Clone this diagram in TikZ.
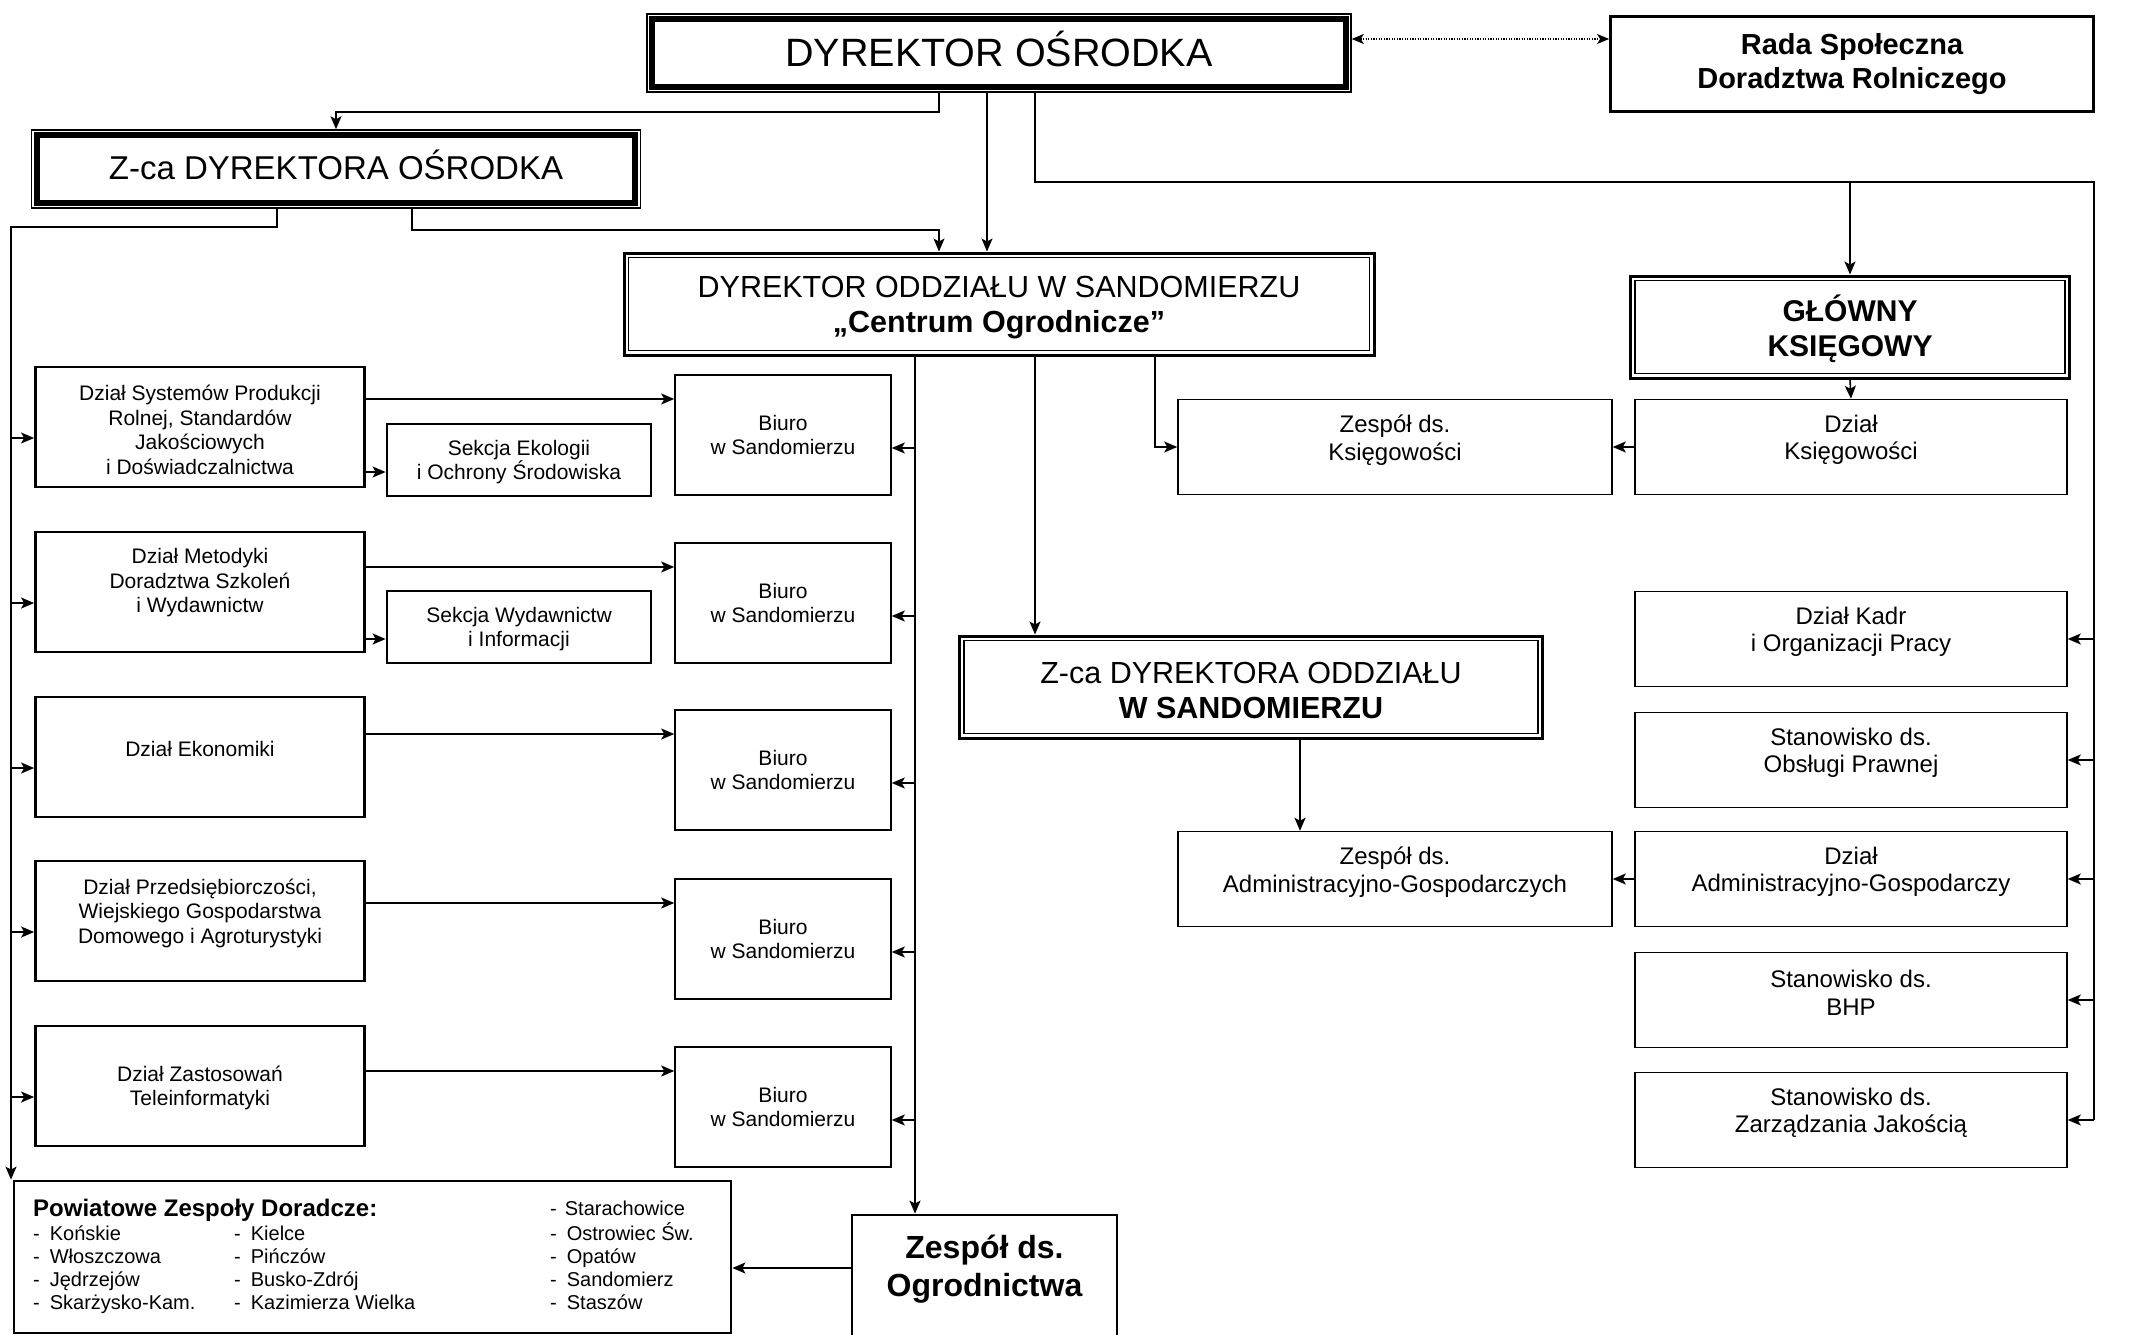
\documentclass[tikz,border=0pt]{standalone}
\usepackage{fontspec}
\setmainfont{Liberation Sans}
\usetikzlibrary{arrows.meta,calc}
\newcommand\fsz[2]{\fontsize{#1pt}{#2pt}\selectfont}
\newcommand\innerframe[3]{\draw[#1] ($(#2.north west)+(#3,#3)$) rectangle ($(#2.south east)+(-#3,-#3)$);}
\begin{document}
\begin{tikzpicture}[x=1pt,y=-1pt,
  conn/.style={line width=1.6pt,-{Stealth[length=13pt,width=11pt,inset=3pt]}},
  bare/.style={line width=1.6pt},
  dotconn/.style={line width=1.3pt,dash pattern=on 1.3pt off 1.3pt,{Stealth[length=12pt,width=10pt,inset=3pt]}-{Stealth[length=12pt,width=10pt,inset=3pt]}},
  orgbox/.style={draw,inner sep=0pt,align=center},
  thinbox/.style={orgbox,line width=1.5pt},
  thickbox/.style={orgbox,line width=2.8pt},
  outerthin/.style={orgbox,line width=1.5pt},
  outerthick/.style={orgbox,line width=3pt},
  innerthick/.style={line width=6pt},
  innerthin/.style={line width=1.5pt},
  txt/.style={inner sep=0pt,align=center},
  dzial/.style={thickbox,minimum width=329pt,minimum height=120pt,font=\fsz{21}{24.5}},
  sekcja/.style={thickbox,minimum width=264pt,minimum height=72pt,font=\fsz{21}{25}},
  biuro/.style={thinbox,minimum width=216pt,minimum height=120pt,font=\fsz{21}{24.5}},
  rbox/.style={thinbox,minimum width=432pt,minimum height=95pt},
  t21/.style={txt,font=\fsz{21}{24.5}},
  t24/.style={txt,font=\fsz{24}{27.5}},
  item/.style={inner sep=0pt,anchor=base west,font=\fsz{20}{23}}
]
\clip (0,0) rectangle (2131,1335);
\fill[white] (0,0) rectangle (2131,1335);

% top level
\node[outerthin,minimum width=704pt,minimum height=78pt] (dyr) at (999,53) {};
\innerframe{innerthick}{dyr}{6}
\node[txt,font=\fsz{39.5}{45}] (dyrt) at (999,49) {DYREKTOR OŚRODKA};
\node[thickbox,minimum width=483pt,minimum height=95pt,font=\bfseries\fsz{29}{34}] (rada) at (1852,64) {Rada Społeczna\\Doradztwa Rolniczego};
\node[outerthin,minimum width=609pt,minimum height=78pt] (zca) at (336,169) {};
\innerframe{innerthick}{zca}{6}
\node[txt,font=\fsz{33}{38}] (zcat) at (336,165) {Z-ca DYREKTORA OŚRODKA};
\node[outerthick,minimum width=750pt,minimum height=102pt] (dyro) at (999,304) {};
\innerframe{innerthin}{dyro}{6}
\node[txt,font=\fsz{30.5}{35}] (dyrot) at (999,308) {DYREKTOR ODDZIAŁU W SANDOMIERZU\\\textbf{„Centrum Ogrodnicze”}};
\node[outerthick,minimum width=439pt,minimum height=102pt] (glow) at (1850,327) {};
\innerframe{innerthin}{glow}{6}
\node[txt,font=\bfseries\fsz{30}{35}] (glowt) at (1850,329) {GŁÓWNY\\KSIĘGOWY};
\node[outerthick,minimum width=583pt,minimum height=102pt] (zcao) at (1251,687) {};
\innerframe{innerthin}{zcao}{6}
\node[txt,font=\fsz{30.5}{35}] (zcaot) at (1251,690) {Z-ca DYREKTORA ODDZIAŁU\\\textbf{W SANDOMIERZU}};

% left departments
\node[dzial] (d1) at (200,427) {};
\node[t21] (d1t) at (200,430) {Dział Systemów Produkcji\\Rolnej, Standardów\\Jakościowych\\i Doświadczalnictwa};
\node[dzial] (d2) at (200,592) {};
\node[t21] (d2t) at (200,583) {Dział Metodyki\\Doradztwa Szkoleń\\i Wydawnictw};
\node[dzial] (d3) at (200,757) {};
\node[t21] (d3t) at (200,749) {Dział Ekonomiki};
\node[dzial] (d4) at (200,921) {};
\node[t21] (d4t) at (200,913) {Dział Przedsiębiorczości,\\Wiejskiego Gospodarstwa\\Domowego i Agroturystyki};
\node[dzial] (d5) at (200,1086) {};
\node[t21] (d5t) at (200,1088) {Dział Zastosowań\\Teleinformatyki};

\node[sekcja] (s1) at (519,460) {};
\node[t21] (s1t) at (519,462) {Sekcja Ekologii\\i Ochrony Środowiska};
\node[sekcja] (s2) at (519,627) {};
\node[t21] (s2t) at (519,629) {Sekcja Wydawnictw\\i Informacji};

\node[biuro] (b1) at (783,435) {Biuro\\w Sandomierzu};
\node[biuro] (b2) at (783,603) {Biuro\\w Sandomierzu};
\node[biuro] (b3) at (783,770) {Biuro\\w Sandomierzu};
\node[biuro] (b4) at (783,939) {Biuro\\w Sandomierzu};
\node[biuro] (b5) at (783,1107) {Biuro\\w Sandomierzu};

% middle / right
\node[rbox,minimum width=434pt] (zk) at (1395,447) {};
\node[t24] (zkt) at (1395,440) {Zespół ds.\\Księgowości};
\node[rbox] (dk) at (1851,447) {};
\node[t24] (dkt) at (1851,440) {Dział\\Księgowości};
\node[rbox,minimum width=434pt] (za) at (1395,879) {};
\node[t24] (zat) at (1395,872) {Zespół ds.\\Administracyjno-Gospodarczych};
\node[rbox] (kadr) at (1851,639) {};
\node[t24] (kadrt) at (1851,632) {Dział Kadr\\i Organizacji Pracy};
\node[rbox] (praw) at (1851,760) {};
\node[t24] (prawt) at (1851,753) {Stanowisko ds.\\Obsługi Prawnej};
\node[rbox] (adm) at (1851,879) {};
\node[t24] (admt) at (1851,872) {Dział\\Administracyjno-Gospodarczy};
\node[rbox] (bhp) at (1851,1000) {};
\node[t24] (bhpt) at (1851,993) {Stanowisko ds.\\BHP};
\node[rbox] (jak) at (1851,1120) {};
\node[t24] (jakt) at (1851,1113) {Stanowisko ds.\\Zarządzania Jakością};

% bottom
\node[thickbox,minimum width=717pt,minimum height=152pt] (pow) at (372.5,1257) {};
\node[inner sep=0pt,anchor=base west,font=\bfseries\fsz{24}{28}] (powh) at (33,1216) {Powiatowe Zespoły Doradcze:};
\node[item] (p11) at (33,1240) {-\hspace{10pt}Końskie};
\node[item] (p12) at (33,1263) {-\hspace{10pt}Włoszczowa};
\node[item] (p13) at (33,1286) {-\hspace{10pt}Jędrzejów};
\node[item] (p14) at (33,1309) {-\hspace{10pt}Skarżysko-Kam.};
\node[item] (p21) at (234,1240) {-\hspace{10pt}Kielce};
\node[item] (p22) at (234,1263) {-\hspace{10pt}Pińczów};
\node[item] (p23) at (234,1286) {-\hspace{10pt}Busko-Zdrój};
\node[item] (p24) at (234,1309) {-\hspace{10pt}Kazimierza Wielka};
\node[item] (p30) at (550,1215) {-\hspace{8pt}Starachowice};
\node[item] (p31) at (550,1240) {-\hspace{10pt}Ostrowiec Św.};
\node[item] (p32) at (550,1263) {-\hspace{10pt}Opatów};
\node[item] (p33) at (550,1286) {-\hspace{10pt}Sandomierz};
\node[item] (p34) at (550,1309) {-\hspace{10pt}Staszów};

\node[thickbox,minimum width=265pt,minimum height=130pt] (ogr) at (984.5,1280) {};
\node[txt,font=\bfseries\fsz{32}{38}] (ogrt) at (984.5,1269) {Zespół ds.\\Ogrodnictwa};

% connectors
\coordinate (q1) at ($(dyr.east)+(0,-14)$);
\draw[dotconn] (q1) -- (q1 -| rada.west);

\draw[conn] ([xshift=-60pt]dyr.south) -- ++(0,19) -| (zca.north);
\draw[conn] ([xshift=-12pt]dyr.south) -- ([xshift=-12pt]dyro.north);
\coordinate (rtop) at (2094,182);
\coordinate (rbot) at (2094,1120);
\draw[bare] ([xshift=36pt]dyr.south) |- (rtop) -- (rbot);
\draw[conn] (glow.north |- rtop) -- (glow.north);
\foreach \n in {kadr,praw,adm,bhp,jak}
  \draw[conn] (\n.east -| rtop) -- (\n.east);

% left vertical line from Z-ca
\coordinate (lline) at (11,227);
\draw[conn] ([xshift=-59pt]zca.south) |- (lline) -- (lline |- pow.north);
\foreach \n in {d1,d2,d3,d4,d5}{
  \coordinate (\n a) at ($(\n.west)+(0,11)$);
  \draw[conn] (lline |- \n a) -- (\n a);
}
\draw[conn] ([xshift=76pt]zca.south) -- ++(0,21) -| ([xshift=-60pt]dyro.north);

% from DYREKTOR ODDZIALU
\coordinate (vline) at ([xshift=-84pt]dyro.south);
\draw[conn] (vline) -- (vline |- ogr.north);
\foreach \n in {b1,b2,b3,b4,b5}{
  \coordinate (\n c) at ($(\n.east)+(0,13)$);
  \draw[conn] (vline |- \n c) -- (\n c);
}
\coordinate (v2) at ([xshift=36pt]dyro.south);
\draw[conn] (v2) -- (v2 |- zcao.north);
\coordinate (v3) at ([xshift=156pt]dyro.south);
\draw[conn] (v3) |- (zk.west);

\draw[conn] (glow.south) -- (dk.north);
\draw[conn] (dk.west) -- (zk.east);
\coordinate (v4) at ([xshift=49pt]zcao.south);
\draw[conn] (v4) -- (v4 |- za.north);
\draw[conn] (adm.west) -- (za.east);

% departments to Biuro and Sekcja
\foreach \d/\b in {d1/b1,d2/b2,d3/b3,d4/b4,d5/b5}{
  \coordinate (\b e) at ($(\b.west)+(0,-36)$);
  \draw[conn] (\d.east |- \b e) -- (\b e);
}
\foreach \d/\s in {d1/s1,d2/s2}{
  \coordinate (\s w) at ($(\s.west)+(0,12)$);
  \draw[conn] (\d.east |- \s w) -- (\s w);
}

\coordinate (o1) at ($(ogr.west)+(0,-12)$);
\draw[conn] (o1) -- (o1 -| pow.east);
\end{tikzpicture}
\end{document}
